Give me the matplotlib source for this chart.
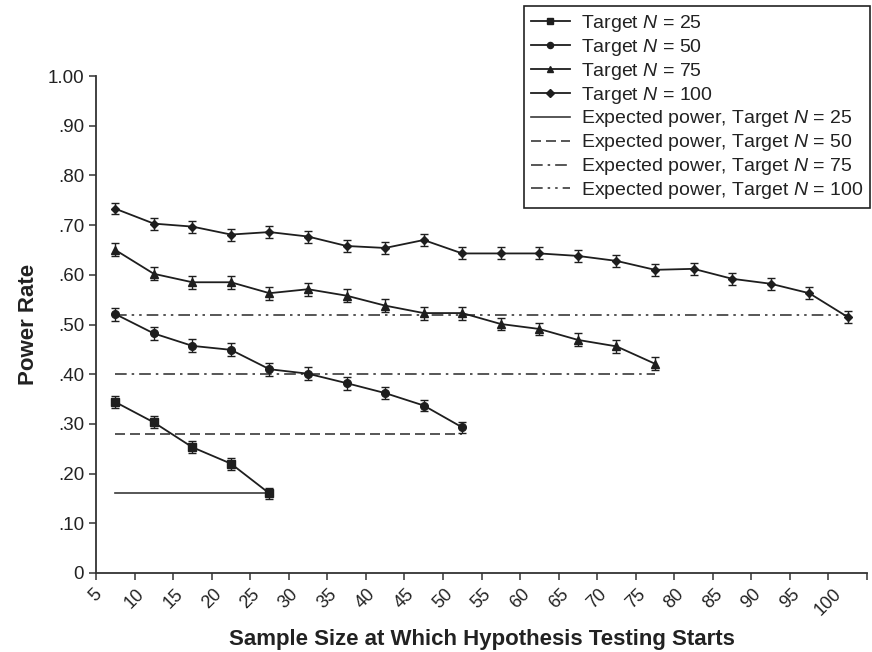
import numpy as np
import matplotlib
matplotlib.use('Agg')
import matplotlib.pyplot as plt

plt.rcParams['font.family'] = ['Liberation Sans', 'DejaVu Sans']
plt.rcParams['mathtext.fontset'] = 'custom'
plt.rcParams['mathtext.rm'] = 'Liberation Sans'
plt.rcParams['mathtext.it'] = 'Liberation Sans:italic'

# =============================================================================
# Data
# =============================================================================

START_SIZES = [5, 10, 15, 20, 25, 30, 35, 40, 45, 50,
               55, 60, 65, 70, 75, 80, 85, 90, 95, 100]

POWER_N25 = [0.344, 0.303, 0.253, 0.220, 0.160]
POWER_N50 = [0.521, 0.482, 0.457, 0.449, 0.410, 0.401, 0.382, 0.362, 0.337, 0.293]
POWER_N75 = [0.650, 0.602, 0.585, 0.585, 0.563, 0.571, 0.558, 0.538, 0.523, 0.523,
             0.501, 0.491, 0.469, 0.456, 0.421]
POWER_N100 = [0.733, 0.703, 0.697, 0.681, 0.686, 0.677, 0.658, 0.654, 0.670, 0.643,
              0.643, 0.643, 0.638, 0.628, 0.610, 0.612, 0.592, 0.582, 0.563, 0.515]

ERR_N25 = [0.013, 0.012, 0.012, 0.012, 0.011]
ERR_N50 = [0.013, 0.013, 0.013, 0.013, 0.013, 0.013, 0.013, 0.012, 0.012, 0.011]
ERR_N75 = [0.013, 0.013, 0.013, 0.013, 0.013, 0.013, 0.013, 0.013, 0.013, 0.013,
           0.013, 0.013, 0.013, 0.013, 0.013]
ERR_N100 = [0.011, 0.012, 0.012, 0.012, 0.012, 0.012, 0.012, 0.012, 0.012, 0.012,
            0.012, 0.012, 0.012, 0.012, 0.012, 0.012, 0.012, 0.012, 0.012, 0.012]

TARGETS = ['25', '50', '75', '100']
EXPECTED_POWER = [0.16, 0.28, 0.40, 0.52]

SERIES = [POWER_N25, POWER_N50, POWER_N75, POWER_N100]
ERRORS = [ERR_N25, ERR_N50, ERR_N75, ERR_N100]
MARKERS = ['s', 'o', '^', 'D']
MARKER_SIZES = [5.5, 5.5, 6, 4.5]
EXP_STYLES = ['-', (0, (6, 3)), (0, (7, 3, 1.5, 3)), (0, (7, 3, 1.5, 3, 1.5, 3))]

LINE_COLOR = '#1e1e1e'
EXP_COLOR = '#3a3a3a'
TEXT_COLOR = '#222222'


def main():
    fig = plt.figure(figsize=(8.72, 6.52), dpi=100)
    ax = fig.add_axes([0.1101, 0.1212, 0.8842, 0.7622])

    # points sit in the middle of each category
    centers = np.array(START_SIZES) + 2.5

    series_handles = []
    for target, vals, errs, mk, ms in zip(TARGETS, SERIES, ERRORS, MARKERS, MARKER_SIZES):
        xs = centers[:len(vals)]
        ax.errorbar(xs, vals, yerr=errs, fmt='none', ecolor=LINE_COLOR,
                    elinewidth=1.0, capsize=3.2, capthick=1.0, zorder=3)
        line, = ax.plot(xs, vals, color=LINE_COLOR, lw=1.3, marker=mk, ms=ms,
                        mfc=LINE_COLOR, mec=LINE_COLOR, zorder=4,
                        label=f'Target $N$ = {target}')
        series_handles.append(line)

    exp_handles = []
    for target, vals, e, ls in zip(TARGETS, SERIES, EXPECTED_POWER, EXP_STYLES):
        xs = centers[:len(vals)]
        line, = ax.plot([xs[0], xs[-1]], [e, e], color=EXP_COLOR, lw=1.2,
                        linestyle=ls, zorder=2,
                        label=f'Expected power, Target $N$ = {target}')
        exp_handles.append(line)

    ax.set_xlim(5, 105)
    ax.set_ylim(0, 1.0)
    ax.set_xticks(START_SIZES + [105])
    ax.set_xticklabels([str(s) for s in START_SIZES] + [''], rotation=45,
                       ha='center', fontsize=13, color=TEXT_COLOR)
    yticks = np.arange(0, 1.01, 0.1)
    ax.set_yticks(yticks)
    ylabels = ['0'] + [f'{v:.2f}'.lstrip('0') for v in yticks[1:-1]] + ['1.00']
    ax.set_yticklabels(ylabels, fontsize=13.5, color=TEXT_COLOR)

    for side in ['top', 'right']:
        ax.spines[side].set_visible(False)
    for side in ['left', 'bottom']:
        ax.spines[side].set_color('#333333')
        ax.spines[side].set_linewidth(1.3)
    ax.tick_params(direction='out', length=5, width=1.1, color='#333333')
    ax.tick_params(axis='x', pad=4)

    ax.set_xlabel('Sample Size at Which Hypothesis Testing Starts',
                  fontsize=16, fontweight='bold', color=TEXT_COLOR)
    ax.set_ylabel('Power Rate', fontsize=16, fontweight='bold', color=TEXT_COLOR)
    ax.xaxis.set_label_coords(0.5, -0.113)
    ax.yaxis.set_label_coords(-0.074, 0.5)

    leg = ax.legend(handles=series_handles + exp_handles,
                    loc='upper right', bbox_to_anchor=(870 / 872, 1 - 6 / 652),
                    bbox_transform=fig.transFigure, borderaxespad=0,
                    fontsize=14, frameon=True, fancybox=False, framealpha=1,
                    edgecolor='#222222', labelspacing=0.15, handlelength=2.0,
                    handletextpad=0.55, borderpad=0.35, markerscale=0.8)
    leg.get_frame().set_linewidth(1.2)
    for t in leg.get_texts():
        t.set_color(TEXT_COLOR)

    plt.savefig('out.png', dpi=100)
    plt.close()


if __name__ == '__main__':
    main()
